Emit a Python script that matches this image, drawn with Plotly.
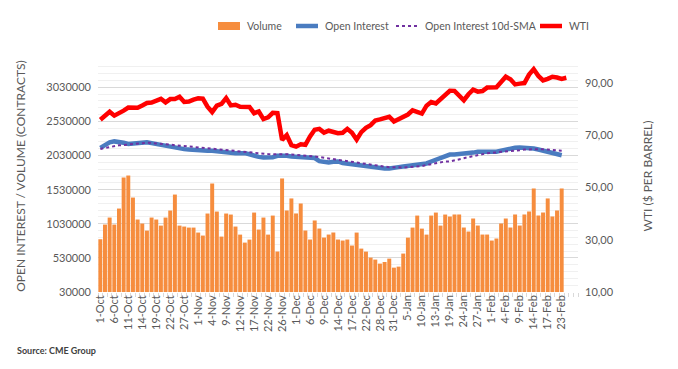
import plotly.graph_objects as go

dates = [
    "1-Oct", "4-Oct", "5-Oct", "6-Oct", "7-Oct", "8-Oct", "11-Oct", "12-Oct", "13-Oct", "14-Oct",
    "15-Oct", "18-Oct", "19-Oct", "20-Oct", "21-Oct", "22-Oct", "25-Oct", "26-Oct", "27-Oct", "28-Oct",
    "29-Oct", "1-Nov", "2-Nov", "3-Nov", "4-Nov", "5-Nov", "8-Nov", "9-Nov", "10-Nov", "11-Nov",
    "12-Nov", "15-Nov", "16-Nov", "17-Nov", "18-Nov", "19-Nov", "22-Nov", "23-Nov", "24-Nov", "26-Nov",
    "29-Nov", "30-Nov", "1-Dec", "2-Dec", "3-Dec", "6-Dec", "7-Dec", "8-Dec", "9-Dec", "10-Dec",
    "13-Dec", "14-Dec", "15-Dec", "16-Dec", "17-Dec", "20-Dec", "21-Dec", "22-Dec", "23-Dec", "27-Dec",
    "28-Dec", "29-Dec", "30-Dec", "31-Dec", "3-Jan", "4-Jan", "5-Jan", "6-Jan", "7-Jan", "10-Jan",
    "11-Jan", "12-Jan", "13-Jan", "14-Jan", "18-Jan", "19-Jan", "20-Jan", "21-Jan", "24-Jan", "25-Jan",
    "26-Jan", "27-Jan", "28-Jan", "31-Jan", "1-Feb", "2-Feb", "3-Feb", "4-Feb", "7-Feb", "8-Feb",
    "9-Feb", "10-Feb", "11-Feb", "14-Feb", "15-Feb", "16-Feb", "17-Feb", "18-Feb", "22-Feb", "23-Feb",
    "24-Feb",
]

volume = [
    803000, 1018000, 1121000, 1018000, 1253000, 1708000, 1737000, 1414000, 1092000, 1033000,
    930000, 1121000, 1092000, 1003000, 1121000, 1224000, 1458000, 1003000, 989000, 974000,
    974000, 901000, 857000, 1180000, 1620000, 1209000, 842000, 1180000, 1165000, 989000,
    871000, 754000, 798000, 1194000, 945000, 1121000, 871000, 1150000, 623000, 1694000,
    1225000, 1401000, 1181000, 1327000, 931000, 799000, 1078000, 960000, 828000, 872000,
    902000, 799000, 784000, 799000, 711000, 901000, 666000, 622000, 534000, 505000,
    446000, 470000, 519000, 387000, 402000, 593000, 827000, 974000, 1150000, 959000,
    871000, 1150000, 1194000, 1003000, 1165000, 1136000, 1166000, 1166000, 975000, 916000,
    1107000, 1004000, 872000, 872000, 784000, 814000, 1034000, 1107000, 975000, 1166000,
    1004000, 1166000, 1210000, 1547000, 1151000, 1195000, 1401000, 1137000, 1225000, 1547000,
]

open_interest = [
    2143000, 2193000, 2223000, 2237000, 2234000, 2217000, 2200000, 2208000, 2220000, 2227000,
    2225000, 2212000, 2198000, 2188000, 2180000, 2163000, 2146000, 2131000, 2124000, 2117000,
    2109000, 2105000, 2099000, 2099000, 2099000, 2090000, 2080000, 2073000, 2065000, 2065000,
    2065000, 2065000, 2048000, 2022000, 2010000, 2002000, 1997000, 2005000, 2026000, 2034000,
    2026000, 2016000, 2011000, 2002000, 2002000, 2000000, 1993000, 1948000, 1934000, 1929000,
    1938000, 1943000, 1919000, 1909000, 1902000, 1892000, 1880000, 1868000, 1860000, 1855000,
    1846000, 1841000, 1841000, 1843000, 1860000, 1868000, 1875000, 1882000, 1890000, 1897000,
    1914000, 1943000, 1968000, 2000000, 2031000, 2044000, 2046000, 2051000, 2053000, 2058000,
    2073000, 2085000, 2083000, 2075000, 2075000, 2087000, 2102000, 2119000, 2134000, 2144000,
    2149000, 2149000, 2146000, 2134000, 2119000, 2105000, 2092000, 2075000, 2056000, 2034000,
]

oi_sma10 = [
    2127000, 2139000, 2154000, 2173000, 2180000, 2185000, 2193000, 2200000, 2207000, 2212000,
    2217000, 2214000, 2209000, 2202000, 2197000, 2190000, 2183000, 2175000, 2168000, 2163000,
    2156000, 2149000, 2141000, 2134000, 2129000, 2121000, 2114000, 2107000, 2102000, 2095000,
    2087000, 2080000, 2075000, 2070000, 2065000, 2058000, 2051000, 2048000, 2051000, 2051000,
    2048000, 2046000, 2041000, 2038000, 2034000, 2026000, 2016000, 2007000, 1997000, 1982000,
    1970000, 1961000, 1950000, 1938000, 1929000, 1919000, 1909000, 1899000, 1894000, 1887000,
    1877000, 1868000, 1860000, 1855000, 1855000, 1855000, 1860000, 1862000, 1865000, 1875000,
    1890000, 1902000, 1914000, 1929000, 1943000, 1943000, 1956000, 1973000, 1990000, 2007000,
    2021000, 2041000, 2053000, 2063000, 2070000, 2075000, 2080000, 2085000, 2095000, 2105000,
    2109000, 2117000, 2121000, 2124000, 2124000, 2121000, 2117000, 2109000, 2105000, 2100000,
]

wti = [
    75.88, 77.62, 78.93, 77.43, 78.30, 79.35, 80.52, 80.64, 80.44, 81.31,
    82.28, 82.44, 82.96, 83.87, 82.50, 83.76, 83.76, 84.65, 82.66, 82.81,
    83.57, 84.05, 83.91, 80.86, 78.81, 81.27, 81.93, 84.15, 81.34, 81.59,
    80.79, 80.88, 80.76, 78.36, 79.01, 76.10, 76.75, 78.50, 78.39, 68.15,
    69.95, 66.18, 65.57, 66.50, 66.26, 69.49, 72.05, 72.36, 70.94, 71.67,
    71.29, 70.73, 70.87, 72.38, 70.86, 68.23, 71.12, 72.76, 73.79, 75.57,
    75.98, 76.56, 76.99, 75.21, 76.08, 76.99, 77.85, 79.46, 78.90, 78.23,
    81.22, 82.64, 82.12, 83.82, 85.43, 86.96, 86.90, 85.14, 83.31, 85.60,
    87.35, 86.61, 86.82, 88.15, 88.20, 88.26, 90.27, 92.31, 91.32, 89.36,
    89.66, 89.88, 93.10, 95.20, 92.60, 90.90, 91.50, 92.30, 92.00, 91.50,
    91.90,
]

tick_labels = dates[0:100:3]
series_names = ["Volume", "Open Interest", "Open Interest 10d-SMA", "WTI"]

x_main = list(range(len(volume)))
x_wti = list(range(len(wti)))
tick_pos = list(range(0, len(volume), 3))

FONT = "Lato"
GREY = "#595959"
ORANGE = "#F68D3E"
BLUE = "#4A7CC0"
PURPLE = "#7030A0"
RED = "#FF0000"

# plot area in pixels (figure is 678 x 369)
PL, PR, PT, PB = 98, 578, 60, 292


def px_x(px):
    return (px - PL) / (PR - PL)


def px_y(py):
    return (PB - py) / (PB - PT)


fig = go.Figure()
fig.add_trace(go.Bar(
    x=x_main, y=volume, name=series_names[0], showlegend=False,
    marker=dict(color=ORANGE, line=dict(width=0)),
))
fig.add_trace(go.Scatter(
    x=x_main, y=open_interest, name=series_names[1], mode="lines", showlegend=False,
    line=dict(color=BLUE, width=4.5),
))
fig.add_trace(go.Scatter(
    x=x_main, y=oi_sma10, name=series_names[2], mode="lines", showlegend=False,
    line=dict(color=PURPLE, width=2, dash="dot"),
))
fig.add_trace(go.Scatter(
    x=x_wti, y=wti, name=series_names[3], mode="lines", showlegend=False,
    line=dict(color=RED, width=4.5), yaxis="y2",
))

# hand-placed legend (Excel style keys)
LEG_Y = 26
LEG_FONT = 10.5
key_w = 22
legend_items = [
    (series_names[0], "rect", ORANGE, 218),
    (series_names[1], "line", BLUE, 296),
    (series_names[2], "dot", PURPLE, 396),
    (series_names[3], "line", RED, 540),
]
shapes = []
annotations = []
for name, kind, color, x0 in legend_items:
    if kind == "rect":
        shapes.append(dict(type="rect", xref="paper", yref="paper",
                           x0=px_x(x0), x1=px_x(x0 + key_w), y0=px_y(LEG_Y + 4), y1=px_y(LEG_Y - 4),
                           fillcolor=color, line=dict(width=0)))
    else:
        shapes.append(dict(type="line", xref="paper", yref="paper",
                           x0=px_x(x0), x1=px_x(x0 + key_w), y0=px_y(LEG_Y), y1=px_y(LEG_Y),
                           line=dict(color=color, width=4.5 if kind == "line" else 2,
                                     dash="solid" if kind == "line" else "dot")))
    annotations.append(dict(text=name, xref="paper", yref="paper",
                            x=px_x(x0 + key_w + 5), y=px_y(LEG_Y), xanchor="left", yanchor="middle",
                            showarrow=False, font=dict(family=FONT, size=LEG_FONT, color=GREY)))

annotations.append(dict(
    text="<b>Source: CME Group</b>", xref="paper", yref="paper",
    x=px_x(15), y=px_y(350), xanchor="left", yanchor="middle", showarrow=False,
    font=dict(family=FONT, size=9, color="#404040"),
))

fig.update_layout(
    width=678, height=369,
    margin=dict(l=PL, r=678 - PR, t=PT, b=369 - PB, autoexpand=False),
    paper_bgcolor="white", plot_bgcolor="white",
    separators=",.",
    bargap=0.15,
    showlegend=False,
    font=dict(family=FONT, color=GREY, size=11),
    xaxis=dict(
        range=[-0.5, 102.5], tickmode="array", tickvals=tick_pos, ticktext=tick_labels,
        tickangle=-90, tickfont=dict(family=FONT, size=11, color=GREY),
        showgrid=False, zeroline=False, showline=False, ticks="",
        minor=dict(ticks="outside", ticklen=4, tickcolor="#D9D9D9", tick0=0.5, dtick=1, showgrid=False),
    ),
    yaxis=dict(
        range=[30000, 3430000], tick0=30000, dtick=500000, tickformat="d",
        showgrid=True, gridcolor="#D9D9D9", gridwidth=1, zeroline=False,
        minor=dict(tick0=30000, dtick=100000, showgrid=True, gridcolor="#F0F0F0"),
        tickfont=dict(family=FONT, size=11, color=GREY), ticklabelstandoff=6,
        title=dict(text="OPEN INTEREST / VOLUME (CONTRACTS)", font=dict(family=FONT, size=12, color=GREY), standoff=18),
    ),
    yaxis2=dict(
        overlaying="y", side="right", range=[10, 98.7], tick0=10, dtick=20, tickformat=".2f",
        showgrid=False, zeroline=False,
        tickfont=dict(family=FONT, size=11, color=GREY), ticklabelstandoff=6,
        title=dict(text="WTI ($ PER BARREL)", font=dict(family=FONT, size=12, color=GREY), standoff=30),
    ),
    shapes=shapes,
    annotations=annotations,
)

fig.write_html("out.html", config={"displayModeBar": False},
               post_script="document.body.style.margin='0px';")
